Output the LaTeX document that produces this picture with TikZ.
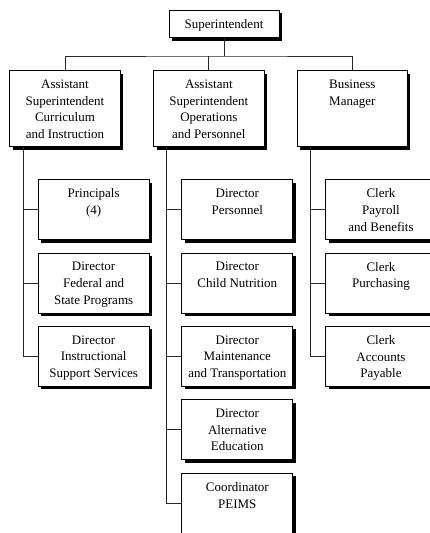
\documentclass[tikz,border=0pt]{standalone}
\usepackage{fontspec}
\setmainfont{Liberation Serif}
\usetikzlibrary{shadows,calc}

\tikzset{
  orgbox/.style={draw=black, line width=1pt, fill=white, inner sep=0pt,
    minimum width=110.7pt, minimum height=60pt,
    drop shadow={shadow xshift=3pt, shadow yshift=-3pt, fill=black, opacity=1}},
  topbox/.style={orgbox, minimum width=110pt, minimum height=27.7pt},
  headbox/.style={orgbox, minimum width=110.3pt, minimum height=76pt},
  orgtext/.style={anchor=north, inner sep=0pt, align=center,
    font=\fontsize{13}{16.6}\selectfont,
    execute at begin node={\rule{0pt}{10pt}}},
  link/.style={draw=black!85, line width=1pt}
}

\begin{document}
\begin{tikzpicture}[x=1pt, y=-1pt]
  \useasboundingbox (0,0) rectangle (430,533);
  \clip (0,0) rectangle (430,533);

  % top of the chart
  \node[topbox] (sup) at (224,23.85) {};
  \node[anchor=base, inner sep=0pt, font=\fontsize{13}{16.6}\selectfont]
    (tsup) at ([yshift=-4.5pt]sup.center) {Superintendent};

  % second level
  \node[headbox] (ac) at (65,108.7) {};
  \node[headbox] (ao) at (208.85,108.7) {};
  \node[headbox] (bm) at (352.3,108.7) {};

  % staff under the curriculum assistant
  \node[orgbox] (c1) at (93.65,209.6) {};
  \node[orgbox] (c2) at (93.65,283.0) {};
  \node[orgbox] (c3) at (93.65,356.4) {};

  % staff under the operations assistant
  \node[orgbox] (o1) at (237.3,209.6) {};
  \node[orgbox] (o2) at (237.3,283.0) {};
  \node[orgbox] (o3) at (237.3,356.4) {};
  \node[orgbox] (o4) at (237.3,429.8) {};
  \node[orgbox] (o5) at (237.3,503.2) {};

  % staff under the business manager
  \node[orgbox] (b1) at (381,209.6) {};
  \node[orgbox] (b2) at (381,283.0) {};
  \node[orgbox] (b3) at (381,356.4) {};

  % box captions
  \node[orgtext] (tac) at ([yshift=-9.5pt]ac.north) {Assistant\\Superintendent\\Curriculum\\and Instruction};
  \node[orgtext] (tao) at ([yshift=-9.5pt]ao.north) {Assistant\\Superintendent\\Operations\\and Personnel};
  \node[orgtext] (tbm) at ([yshift=-9.5pt]bm.north) {Business\\Manager};

  \node[orgtext] (tc1) at ([yshift=-9.5pt]c1.north) {Principals\\(4)};
  \node[orgtext] (tc2) at ([yshift=-9.5pt]c2.north) {Director\\Federal and\\State Programs};
  \node[orgtext] (tc3) at ([yshift=-9.5pt]c3.north) {Director\\Instructional\\Support Services};

  \node[orgtext] (to1) at ([yshift=-9.5pt]o1.north) {Director\\Personnel};
  \node[orgtext] (to2) at ([yshift=-9.5pt]o2.north) {Director\\Child Nutrition};
  \node[orgtext] (to3) at ([yshift=-9.5pt]o3.north) {Director\\Maintenance\\and Transportation};
  \node[orgtext] (to4) at ([yshift=-9.5pt]o4.north) {Director\\Alternative\\Education};
  \node[orgtext] (to5) at ([yshift=-9.5pt]o5.north) {Coordinator\\PEIMS};

  \node[orgtext] (tb1) at ([yshift=-9.5pt]b1.north) {Clerk\\Payroll\\and Benefits};
  \node[orgtext] (tb2) at ([yshift=-9.5pt]b2.north) {Clerk\\Purchasing};
  \node[orgtext] (tb3) at ([yshift=-9.5pt]b3.north) {Clerk\\Accounts\\Payable};

  % connectors from the superintendent
  \coordinate (bus) at ($(sup.south)+(0,17.8)$);
  \draw[link] (sup.south) -- (bus);
  \draw[link] (ac.north) |- (bus) -| (bm.north);
  \draw[link] (ao.north) -- (ao.north |- bus);

  % trunks below the second level
  \coordinate (tkac) at ($(ac.south west)+(14,0)$);
  \coordinate (tkao) at ($(ao.south west)+(13.3,0)$);
  \coordinate (tkbm) at ($(bm.south west)+(14,0)$);

  \draw[link] (tkac) |- (c3.west);
  \foreach \n in {c1,c2} \draw[link] (tkac |- \n.west) -- (\n.west);

  \draw[link] (tkao) |- (o5.west);
  \foreach \n in {o1,o2,o3,o4} \draw[link] (tkao |- \n.west) -- (\n.west);

  \draw[link] (tkbm) |- (b3.west);
  \foreach \n in {b1,b2} \draw[link] (tkbm |- \n.west) -- (\n.west);
\end{tikzpicture}
\end{document}
